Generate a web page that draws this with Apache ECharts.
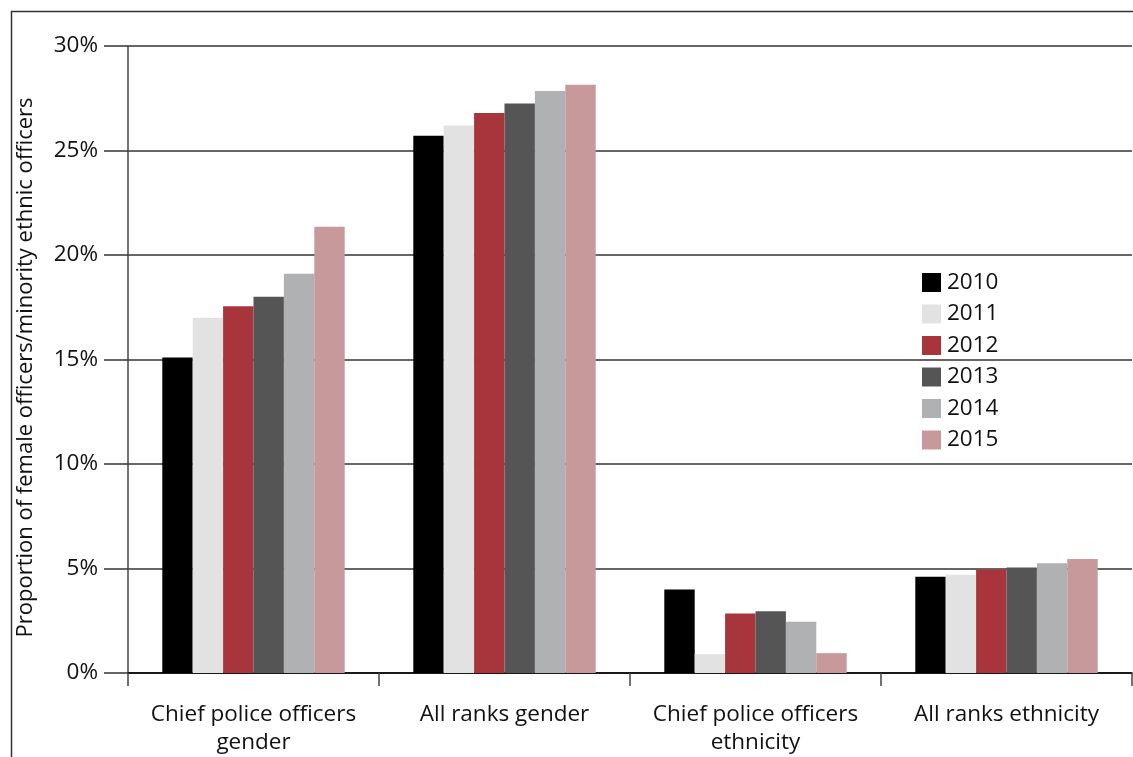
<!DOCTYPE html>
<html>
<head>
<meta charset="utf-8">
<script src="https://cdn.jsdelivr.net/npm/echarts@6/dist/echarts.min.js"></script>
<style>
    html, body { margin: 0; padding: 0; background: #fff; }
    #chart { width: 1133px; height: 757px; }
</style>
</head>
<body>
<div id="chart"></div>
<script>
    // 分类
    const categories = ['Chief police officers\ngender', 'All ranks gender', 'Chief police officers\nethnicity', 'All ranks ethnicity']
    const years = ['2010', '2011', '2012', '2013', '2014', '2015']
    const colors = ['#000000', '#e2e2e2', '#a8343c', '#555555', '#b0b1b3', '#c8999b']

    // 每年的数值 (%)
    const v2010 = [15.1, 25.7, 4.0, 4.6]
    const v2011 = [17.0, 26.2, 0.9, 4.7]
    const v2012 = [17.55, 26.8, 2.85, 4.95]
    const v2013 = [18.0, 27.25, 2.95, 5.05]
    const v2014 = [19.1, 27.85, 2.45, 5.25]
    const v2015 = [21.35, 28.15, 0.95, 5.45]
    const values = [v2010, v2011, v2012, v2013, v2014, v2015]

    const yTicks = [0, 5, 10, 15, 20, 25, 30]

    const font = '"Open Sans", "Noto Sans", sans-serif'

    let chart = echarts.init(document.getElementById('chart'))
    chart.setOption({
        animation: false,
        textStyle: { fontFamily: font },
        graphic: [{
            // 外框
            type: 'rect',
            shape: { x: 11.5, y: 11.5, width: 1200, height: 800 },
            style: { fill: 'none', stroke: '#333', lineWidth: 1.5 },
            silent: true
        }],
        grid: { left: 128, right: 1, top: 46, bottom: 79, containLabel: false },
        legend: {
            orient: 'vertical',
            left: 917,
            top: 266,
            itemWidth: 19,
            itemHeight: 19,
            itemGap: 8.5,
            icon: 'rect',
            textStyle: { fontSize: 22.5, color: '#111', fontFamily: font, padding: [0, 0, 0, 1] },
            data: years
        },
        xAxis: {
            type: 'category',
            data: categories,
            axisLine: { lineStyle: { color: '#000', width: 1.5 } },
            axisTick: { show: true, interval: 0, length: 13, lineStyle: { color: '#444', width: 1.5 } },
            axisLabel: { interval: 0, fontSize: 22.5, color: '#111', margin: 28, lineHeight: 28, fontFamily: font }
        },
        yAxis: {
            type: 'value',
            min: 0,
            max: 30,
            interval: 5,
            name: 'Proportion of female officers/minority ethnic officers',
            nameLocation: 'middle',
            nameGap: 91,
            nameTextStyle: { fontSize: 22, color: '#111', fontFamily: font, padding: [0, 16, 0, 0] },
            axisLine: { show: true, lineStyle: { color: '#444', width: 1.5 } },
            axisTick: { show: true, inside: false, length: 24, lineStyle: { color: '#333', width: 1.5 } },
            splitLine: { show: true, lineStyle: { color: '#333', width: 1.5 } },
            axisLabel: {
                fontSize: 22.5, color: '#111', margin: 30, fontFamily: font,
                formatter: v => yTicks.includes(v) ? v + '%' : ''
            }
        },
        series: years.map((y, i) => ({
            name: y,
            type: 'bar',
            data: values[i],
            barWidth: 30.4,
            barGap: '0%',
            itemStyle: { color: colors[i] }
        }))
    })
</script>
</body>
</html>
